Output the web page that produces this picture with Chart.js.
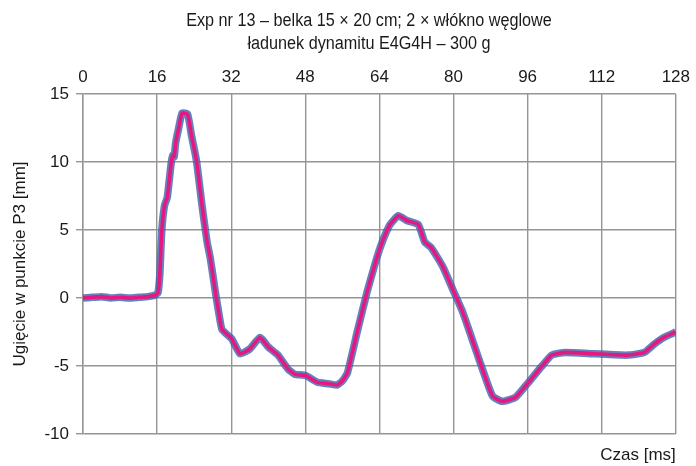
<!DOCTYPE html>
<html>
<head>
<meta charset="utf-8">
<script src="https://cdn.jsdelivr.net/npm/chart.js@4"></script>
<style>
  html, body { margin: 0; padding: 0; background: #fff; }
  #wrap { width: 696px; height: 466px; }
</style>
</head>
<body>
<div id="wrap"><canvas id="c" width="696" height="466"></canvas></div>
<script>
// Deflection at point P3 over time (ms)
const timeMs = [
  0, 2, 4, 6, 8, 10, 12, 14, 15.5, 16.2, 16.6, 17.0, 17.6, 18.2, 19.0, 19.4, 19.7, 20.0,
  20.6, 21.4, 22.6, 23.4, 24.5, 25.7, 26.8, 27.5, 28.6, 29.3, 30.0, 32.1, 33.9, 36.0, 38.2, 40.0,
  42.1, 44.2, 45.7, 48.1, 50.6, 53.0, 54.9, 56.0, 57.1, 59.2, 61.3, 63.3, 64.7, 66.3,
  68.1, 69.9, 72.4, 73.8, 75.2, 77.7, 79.8, 82.0, 85.5, 88.4, 90.5, 93.4, 96.2, 99.1,
  101.2, 104.1, 110.5, 117.6, 121.2, 123.3, 125.4, 128
];
const deflectionMm = [
  0.0, 0.05, 0.1, 0.0, 0.05, 0.0, 0.05, 0.1, 0.2, 0.4, 1.8, 4.9, 6.8, 7.4, 9.8, 10.5, 10.4, 11.4,
  12.4, 13.6, 13.5, 12.0, 10.1, 6.8, 4.1, 2.9, 0.4, -1.05, -2.3, -3.0, -4.1, -3.75, -2.9, -3.6,
  -4.2, -5.2, -5.6, -5.7, -6.2, -6.3, -6.4, -6.1, -5.5, -2.5, 0.4, 2.8, 4.2, 5.4,
  6.05, 5.7, 5.4, 4.1, 3.7, 2.3, 0.66, -1.05, -4.5, -7.2, -7.6, -7.3, -6.2, -5.0,
  -4.2, -4.0, -4.1, -4.2, -4.0, -3.4, -2.9, -2.5
];
const timeTicks = [0, 16, 32, 48, 64, 80, 96, 112, 128];
const deflectionTicks = [-10, -5, 0, 5, 10, 15];

const titleLines = [
  'Exp nr 13 \u2013 belka 15 \u00d7 20 cm; 2 \u00d7 w\u0142\u00f3kno w\u0119glowe',
  '\u0142adunek dynamitu E4G4H \u2013 300 g'
];

const FONT = "'Liberation Sans', Arial, sans-serif";
const points = timeMs.map((t, i) => ({ x: t, y: deflectionMm[i] }));

// Two-line heading, slightly condensed horizontally
const titlePlugin = {
  id: 'twoLineTitle',
  afterDraw(chart) {
    const ctx = chart.ctx;
    ctx.save();
    ctx.fillStyle = '#1a1a1a';
    ctx.font = '18px ' + FONT;
    ctx.textAlign = 'center';
    ctx.textBaseline = 'middle';
    ctx.translate(369, 0);
    ctx.scale(0.9, 1);
    ctx.fillText(titleLines[0], 0, 21);
    ctx.fillText(titleLines[1], 0, 44);
    ctx.restore();
  }
};

new Chart(document.getElementById('c'), {
  type: 'line',
  data: {
    datasets: [
      {
        label: 'pomiar',
        data: points,
        borderColor: 'rgba(62,98,172,0.8)',
        borderWidth: 7.5,
        pointRadius: 0,
        tension: 0.15,
        borderJoinStyle: 'round',
        order: 2
      },
      {
        label: 'wyg\u0142adzone',
        data: points,
        borderColor: '#e6187f',
        borderWidth: 3.6,
        pointRadius: 0,
        tension: 0.15,
        borderJoinStyle: 'round',
        order: 1
      }
    ]
  },
  options: {
    responsive: false,
    animation: false,
    layout: { padding: { left: 0, right: 15, top: 0, bottom: 0 } },
    plugins: { legend: { display: false }, title: { display: false }, tooltip: { enabled: false } },
    scales: {
      x: {
        type: 'linear',
        position: 'top',
        min: 0, max: 128,
        afterBuildTicks(scale) { scale.ticks = timeTicks.map(v => ({ value: v })); },
        afterFit(scale) { scale.height = 94; },
        ticks: { color: '#1a1a1a', font: { family: FONT, size: 17 }, padding: 6, maxRotation: 0 },
        grid: { color: '#959595', lineWidth: 1.4, drawTicks: false },
        border: { display: false }
      },
      xb: {
        type: 'linear',
        position: 'bottom',
        min: 0, max: 128,
        afterFit(scale) { scale.height = 32; },
        ticks: { display: false },
        grid: { display: false },
        border: { display: false },
        title: {
          display: true, text: 'Czas [ms]', align: 'end',
          color: '#1a1a1a', font: { family: FONT, size: 17 }, padding: { top: 8, bottom: 0 }
        }
      },
      y: {
        min: -10, max: 15,
        afterBuildTicks(scale) { scale.ticks = deflectionTicks.map(v => ({ value: v })); },
        afterFit(scale) { scale.width = 83; },
        ticks: { color: '#1a1a1a', font: { family: FONT, size: 17 }, padding: 7 },
        grid: { color: '#959595', lineWidth: 1.4, tickLength: 7 },
        border: { color: '#959595', width: 1.4 },
        title: {
          display: true, text: 'Ugi\u0119cie w punkcie P3 [mm]',
          color: '#1a1a1a', font: { family: FONT, size: 17 }, padding: { top: 10, bottom: 0 }
        }
      }
    }
  },
  plugins: [titlePlugin]
});
</script>
</body>
</html>
